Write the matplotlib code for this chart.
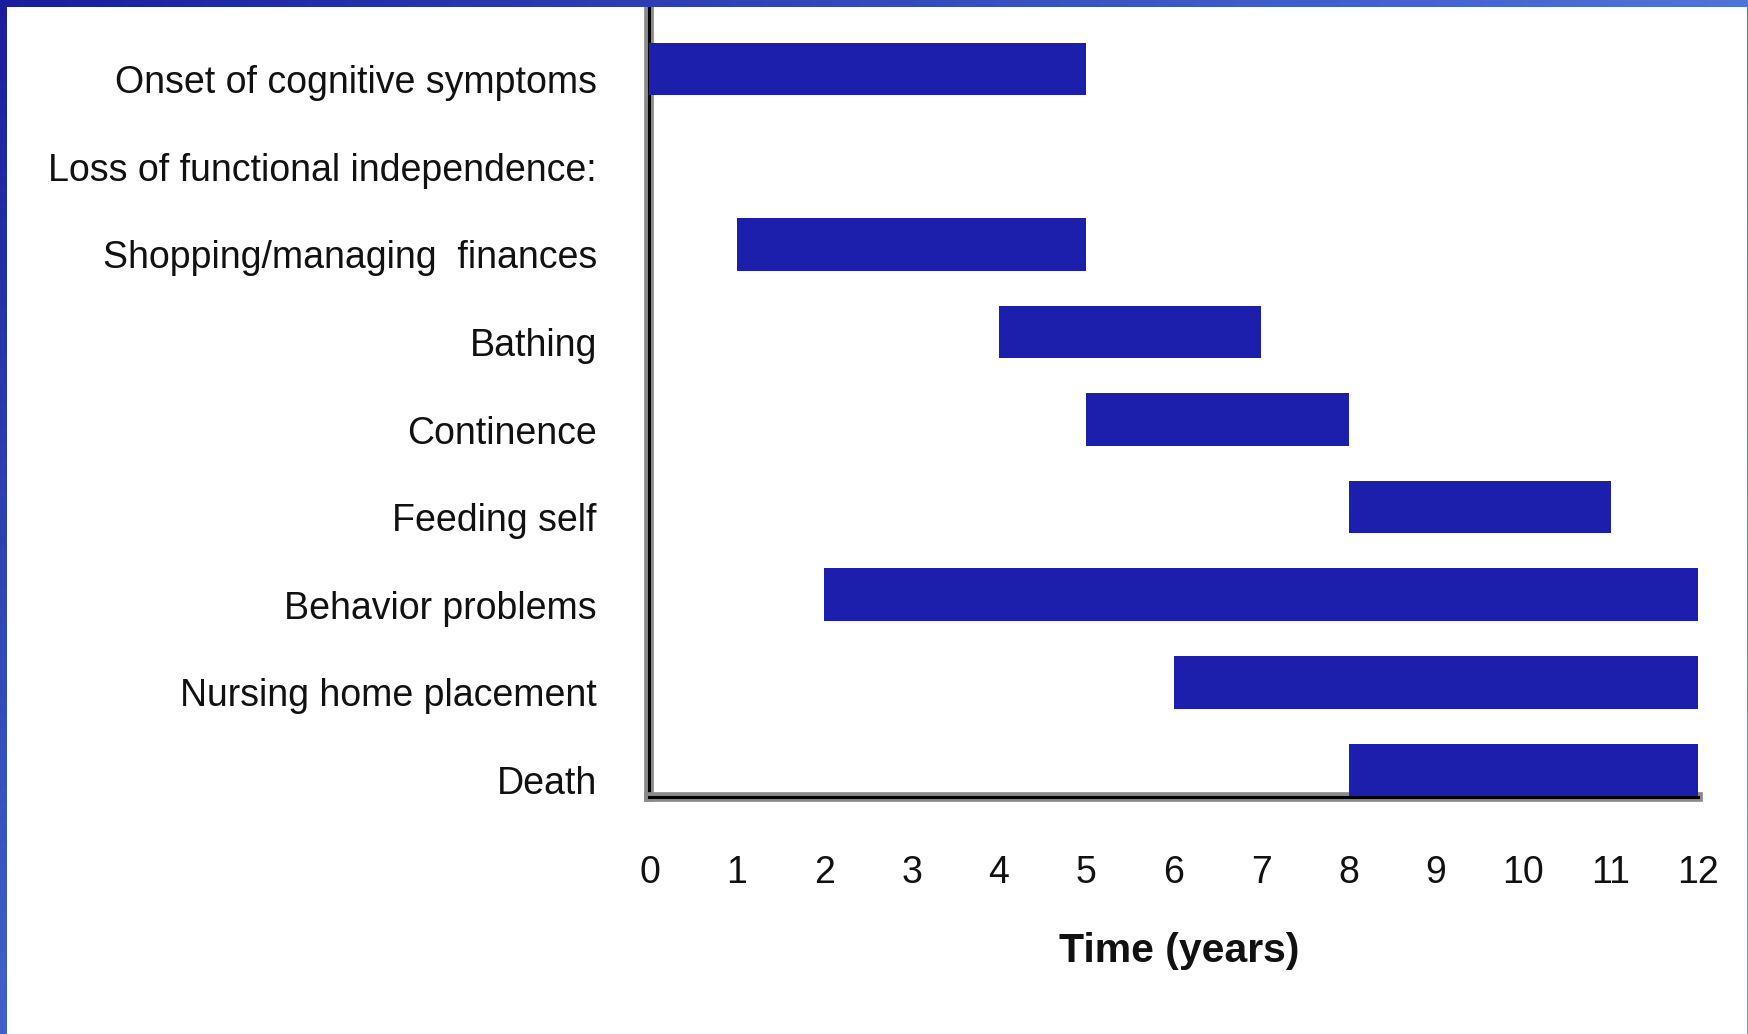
import matplotlib
matplotlib.use("Agg")
import matplotlib.pyplot as plt
import matplotlib.patheffects as pe
import matplotlib.transforms as mtransforms
import numpy as np

categories = ["Onset of cognitive symptoms", "Loss of functional independence:",
              "Shopping/managing  finances", "Bathing", "Continence", "Feeding self",
              "Behavior problems", "Nursing home placement", "Death"]
starts = [0, None, 1, 4, 5, 8, 2, 6, 8]
ends = [5, None, 5, 7, 8, 11, 12, 12, 12]
xticks = list(range(0, 13))

plt.rcParams['font.family'] = ['Liberation Sans', 'DejaVu Sans']

W, H = 1749, 1034
fig = plt.figure(figsize=(W / 100, H / 100), dpi=100)
fig.patch.set_facecolor('white')

ax_l, ax_r, ax_t, ax_b = 649.5, 1698, 7, 797
ax = fig.add_axes([ax_l / W, 1 - ax_b / H, (ax_r - ax_l) / W, (ax_b - ax_t) / H])

bar_color = '#1c1fab'
for i, (s, e) in enumerate(zip(starts, ends)):
    if s is None:
        continue
    ax.barh(i, e - s, left=s, height=0.6, color=bar_color, zorder=5)

ax.set_xlim(0, 12)
ax.set_ylim(8.308, -0.708)
ax.set_xticks(xticks)
ax.set_xticklabels([str(t) for t in xticks], fontsize=27)
ax.tick_params(axis='x', length=0, pad=42, colors='#111111')
ax.set_yticks([])

for side in ['top', 'right']:
    ax.spines[side].set_visible(False)
for side in ['left', 'bottom']:
    sp = ax.spines[side]
    sp.set_linewidth(2.2)
    sp.set_color('black')
    sp.set_path_effects([pe.withStroke(linewidth=7.0, foreground='#8a8a8a')])
    sp.set_zorder(3)

trans = mtransforms.blended_transform_factory(ax.transAxes, ax.transData)
off = mtransforms.ScaledTranslation(0, -14 / 100, fig.dpi_scale_trans)
for i, c in enumerate(categories):
    ax.text(-(ax_l - 597) / (ax_r - ax_l), i, c, transform=trans + off,
            ha='right', va='center', fontsize=27, color='#111111')

fig.text(1179 / W, 1 - 951 / H, "Time (years)", ha='center', va='center',
         fontsize=29.5, fontweight='bold', color='#111111')

# decorative blue frame
def grad_axes(rect, c0, c1, horizontal):
    a = fig.add_axes(rect, zorder=10)
    n = 256
    t = np.linspace(0, 1, n)
    c0 = np.array(matplotlib.colors.to_rgb(c0))
    c1 = np.array(matplotlib.colors.to_rgb(c1))
    cols = c0[None, :] * (1 - t[:, None]) + c1[None, :] * t[:, None]
    if horizontal:
        img = cols[None, :, :]
    else:
        img = cols[:, None, :]
    a.imshow(img, aspect='auto', extent=[0, 1, 1, 0] if not horizontal else [0, 1, 0, 1])
    a.set_axis_off()
    return a

top_h = 7
left_w = 7
right_w = 2
grad_axes([0, 1 - top_h / H, 1, top_h / H], '#1a1e9c', '#4d74da', True)
grad_axes([0, 0, left_w / W, 1 - top_h / H], '#1a1e9c', '#4062c8', False)
grad_axes([1 - right_w / W, 0, right_w / W, 1 - top_h / H], '#4d74da', '#6a98f0', False)

fig.savefig("out.png", dpi=100, facecolor='white')
